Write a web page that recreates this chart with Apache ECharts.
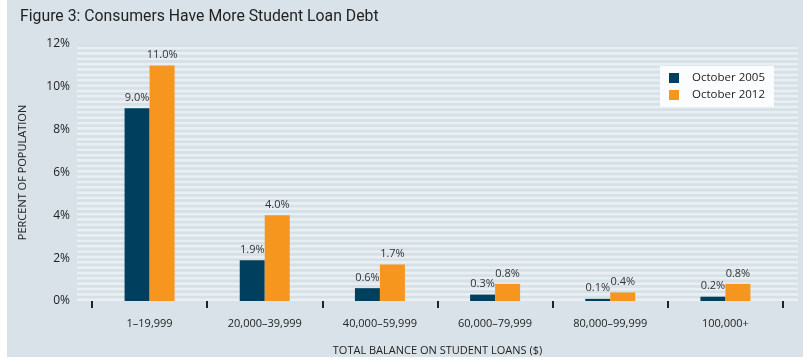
<!DOCTYPE html>
<html><head><meta charset="utf-8">
<script src="https://cdn.jsdelivr.net/npm/echarts@6/dist/echarts.min.js"></script>
<style>
html,body{margin:0;padding:0;background:#fff;}
#panel{position:absolute;left:7px;top:0;width:796px;height:357px;background:#d8e2e8;}
#chart{position:absolute;left:0;top:0;width:810px;height:364px;}
</style></head>
<body><div id="panel"></div><div id="chart"></div>
<script>
const categories = ['1–19,999','20,000–39,999','40,000–59,999','60,000–79,999','80,000–99,999','100,000+'];
const oct2005 = [9.0, 1.9, 0.6, 0.3, 0.1, 0.2];
const oct2012 = [11.0, 4.0, 1.7, 0.8, 0.4, 0.8];
const seriesNames = ['October 2005','October 2012'];
const yTicks = [0, 2, 4, 6, 8, 10, 12];

const FONT = 'Open Sans';
const chart = echarts.init(document.getElementById('chart'), null, {renderer:'canvas'});
chart.setOption({
  animation:false,
  textStyle:{fontFamily:FONT},
  title:{text:'Figure 3: Consumers Have More Student Loan Debt', left:15, top:4,
    textStyle:{fontFamily:'Roboto', fontSize:15.8, fontWeight:'normal', color:'#222'}},
  legend:{orient:'vertical', left:660, top:66, data:seriesNames,
    backgroundColor:'#fafcfd', padding:[6,9,6,9], itemWidth:10, itemHeight:10, itemGap:5,
    icon:'rect', textStyle:{fontFamily:FONT, fontSize:11.5, color:'#222', padding:[0,0,0,8]}},
  grid:[
    {left:77, right:12, top:44, bottom:63},
    {left:92, right:27, top:44, bottom:63}
  ],
  xAxis:[
    {gridIndex:0, type:'value', min:0, max:1, show:false},
    {gridIndex:1, type:'category', data:categories, offset:3,
      axisLine:{show:false},
      axisTick:{show:true, length:7, lineStyle:{color:'#222', width:2}},
      axisLabel:{fontFamily:FONT, fontSize:11, color:'#222', margin:14},
      name:'TOTAL BALANCE ON STUDENT LOANS ($)', nameLocation:'middle', nameGap:41,
      nameTextStyle:{fontFamily:FONT, fontSize:11, color:'#222'}}
  ],
  yAxis:[
    {gridIndex:0, type:'value', min:yTicks[0], max:yTicks[yTicks.length-1], interval:2,
      axisLine:{show:false}, axisTick:{show:false},
      axisLabel:{formatter:'{value}%', fontFamily:FONT, fontSize:12, color:'#222', margin:7},
      splitLine:{show:false},
      name:'PERCENT OF POPULATION', nameLocation:'middle', nameGap:49, nameRotate:90,
      nameTextStyle:{fontFamily:FONT, fontSize:11, color:'#222'}},
    {gridIndex:1, type:'value', min:0, max:12, show:false, splitLine:{show:false}},
    {gridIndex:0, type:'value', min:0, max:12, interval:0.125, position:'right',
      axisLine:{show:false}, axisTick:{show:false}, axisLabel:{show:false},
      splitLine:{show:false},
      splitArea:{show:true, areaStyle:{color:['#e9eff3','#d6e0e7']}}}
  ],
  series:[
    {name:seriesNames[0], type:'bar', xAxisIndex:1, yAxisIndex:1, data:oct2005,
      barWidth:25, barGap:'0%', itemStyle:{color:'#003f5e'},
      label:{show:true, position:'top', distance:5, formatter:p=>p.value.toFixed(1)+'%',
        fontFamily:FONT, fontSize:11, color:'#333'}},
    {name:seriesNames[1], type:'bar', xAxisIndex:1, yAxisIndex:1, data:oct2012,
      barWidth:25, barGap:'0%', itemStyle:{color:'#f7961f'},
      label:{show:true, position:'top', distance:5, formatter:p=>p.value.toFixed(1)+'%',
        fontFamily:FONT, fontSize:11, color:'#333'}}
  ]
});
</script></body></html>
